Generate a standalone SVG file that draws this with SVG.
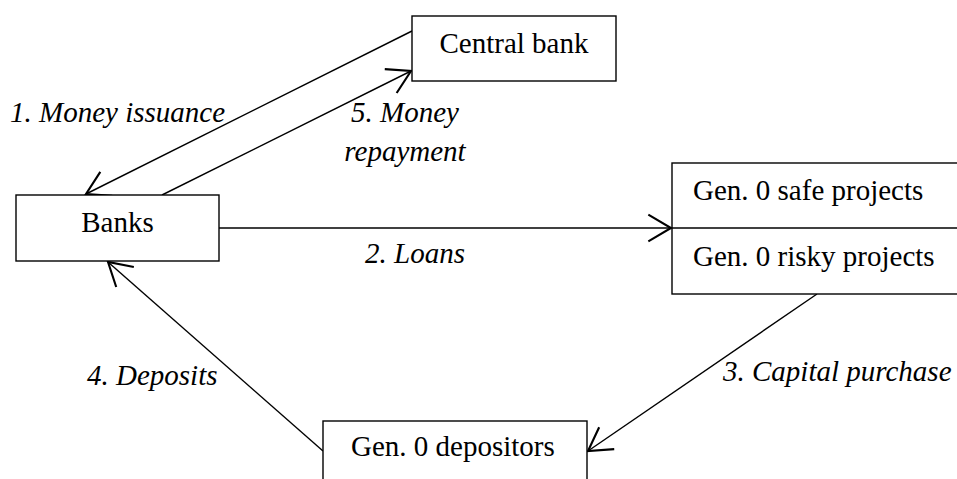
<svg xmlns="http://www.w3.org/2000/svg" width="957" height="479" viewBox="0 0 957 479">
<defs>
<style>
.box{fill:#fff;stroke:#000;stroke-width:1.4}
.lbl{font-family:"Liberation Serif","Times New Roman",serif;font-size:29px;fill:#000}
.it{font-family:"Liberation Serif","Times New Roman",serif;font-size:29px;font-style:italic;fill:#000}
.con{fill:none;stroke:#000;stroke-width:1.4}
</style>
<marker id="arr" markerUnits="userSpaceOnUse" markerWidth="40" markerHeight="40" viewBox="-20 -15 25 30" refX="0" refY="0" orient="auto">
<path d="M-17,-10 L0,0 L-17,10" fill="none" stroke="#000" stroke-width="1.6"/>
</marker>
</defs>
<rect width="957" height="479" fill="#fff"/>
<g id="connectors">
<line class="con" x1="412" y1="31" x2="86" y2="194" marker-end="url(#arr)"/>
<line class="con" x1="162" y1="195" x2="411" y2="71" marker-end="url(#arr)"/>
<line class="con" x1="219" y1="228" x2="671" y2="228" marker-end="url(#arr)"/>
<line class="con" x1="817" y1="294" x2="588" y2="451" marker-end="url(#arr)"/>
<line class="con" x1="323" y1="451" x2="108" y2="262" marker-end="url(#arr)"/>
<text class="it" x="10" y="122">1. Money issuance</text>
<text class="it" x="405" y="122" text-anchor="middle">5. Money</text>
<text class="it" x="405" y="161" text-anchor="middle">repayment</text>
<text class="it" x="365" y="263">2. Loans</text>
<text class="it" x="723" y="381">3. Capital purchase</text>
<text class="it" x="87" y="385">4. Deposits</text>
</g>
<g id="central-bank">
<rect class="box" x="412" y="16" width="204" height="65"/>
<text class="lbl" x="514" y="53" text-anchor="middle">Central bank</text>
</g>
<g id="banks">
<rect class="box" x="16" y="195" width="203" height="66"/>
<text class="lbl" x="117.5" y="232" text-anchor="middle">Banks</text>
</g>
<g id="projects">
<rect class="box" x="672" y="163" width="300" height="131"/>
<line class="con" x1="672" y1="228" x2="972" y2="228"/>
<text class="lbl" x="693" y="200">Gen. 0 safe projects</text>
<text class="lbl" x="693" y="266">Gen. 0 risky projects</text>
</g>
<g id="depositors">
<rect class="box" x="323" y="421" width="264" height="70"/>
<text class="lbl" x="351" y="456">Gen. 0 depositors</text>
</g>
</svg>
